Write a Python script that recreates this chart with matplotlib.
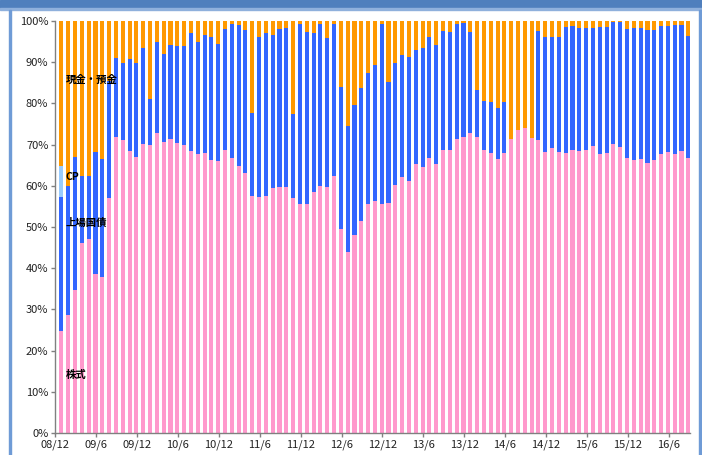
import numpy as np
import matplotlib
matplotlib.use("Agg")
import matplotlib.pyplot as plt
from matplotlib.patches import Rectangle

plt.rcParams['font.family'] = ['Noto Sans CJK JP', 'DejaVu Sans']

# monthly composition (%), 08/12 .. 16/8
stocks = [24.8, 28.6, 34.7, 46.2, 47.1, 38.7, 37.9, 57.1, 71.9, 71.1,
          68.4, 67.1, 70.1, 70.0, 72.7, 70.7, 71.4, 70.4, 69.9, 68.4,
          67.8, 68.0, 66.3, 66.1, 68.7, 66.8, 64.8, 63.0, 57.6, 57.3,
          57.6, 59.4, 59.8, 59.8, 57.1, 55.7, 55.5, 58.4, 60.0, 59.8,
          62.4, 49.4, 44.0, 48.1, 51.5, 55.5, 56.4, 55.7, 55.8, 60.2,
          62.2, 61.2, 65.4, 64.5, 66.8, 65.4, 68.8, 68.8, 71.4, 71.9,
          72.9, 71.8, 68.8, 68.0, 66.5, 68.0, 71.4, 73.5, 74.0, 71.5,
          71.0, 68.3, 69.2, 68.3, 68.0, 68.7, 68.4, 68.8, 69.7, 67.8,
          68.0, 70.2, 69.4, 66.7, 66.3, 66.5, 65.5, 66.2, 67.7, 68.1,
          67.8, 68.4, 66.8]

bonds = [32.6, 31.4, 32.4, 16.2, 15.3, 29.6, 28.6, 28.4, 19.2, 18.6,
         22.4, 22.6, 23.4, 11.1, 22.3, 21.2, 22.8, 23.5, 24.0, 28.8,
         27.1, 28.6, 29.7, 28.4, 29.4, 32.4, 34.2, 34.9, 20.0, 38.8,
         39.6, 37.2, 38.3, 38.4, 20.3, 43.5, 41.9, 38.7, 39.3, 36.0,
         36.9, 34.7, 30.4, 31.4, 32.2, 32.0, 32.9, 43.5, 29.5, 29.7,
         29.5, 30.1, 27.6, 28.9, 29.4, 28.9, 28.8, 28.6, 27.8, 27.7,
         24.5, 11.5, 11.9, 12.4, 12.5, 12.3, 0.0, 0.0, 0.0, 0.0,
         26.6, 27.9, 26.8, 27.8, 30.6, 30.1, 30.0, 29.6, 28.5, 30.8,
         30.6, 29.5, 30.3, 31.4, 31.9, 31.9, 32.4, 31.7, 31.2, 30.8,
         31.3, 30.7, 29.6]

cp = [7.4] + [0.0] * 92

cash = [35.2, 40.0, 32.9, 37.6, 37.6, 31.7, 33.5, 14.5, 8.9, 10.3,
        9.2, 10.3, 6.5, 18.9, 5.0, 8.1, 5.8, 6.1, 6.1, 2.8,
        5.1, 3.4, 4.0, 5.5, 1.9, 0.8, 1.0, 2.1, 22.4, 3.9,
        2.8, 3.4, 1.9, 1.8, 22.6, 0.8, 2.6, 2.9, 0.7, 4.2,
        0.7, 15.9, 25.6, 20.5, 16.3, 12.5, 10.7, 0.8, 14.7, 10.1,
        8.3, 8.7, 7.0, 6.6, 3.8, 5.7, 2.4, 2.6, 0.8, 0.4,
        2.6, 16.7, 19.3, 19.6, 21.0, 19.7, 28.6, 26.5, 26.0, 28.5,
        2.4, 3.8, 4.0, 3.9, 1.4, 1.2, 1.6, 1.6, 1.8, 1.4,
        1.4, 0.3, 0.3, 1.9, 1.8, 1.6, 2.1, 2.1, 1.1, 1.1,
        0.9, 0.9, 3.6]

tick_labels = ['08/12', '09/6', '09/12', '10/6', '10/12', '11/6', '11/12',
               '12/6', '12/12', '13/6', '13/12', '14/6', '14/12', '15/6',
               '15/12', '16/6']

fig = plt.figure(figsize=(7.02, 4.55), dpi=100)
ax = fig.add_axes([0.0788, 0.0484, 0.9037, 0.9054])

x = np.arange(len(stocks)) + 0.9
w = 0.6
s = np.array(stocks)
b = np.array(bonds)
c = np.array(cp)
k = np.array(cash)

ax.bar(x, s, w, color='#FF99CC', edgecolor='none')
ax.bar(x, b, w, bottom=s, color='#3366FF', edgecolor='none')
ax.bar(x, c, w, bottom=s + b, color='#99CCFF', edgecolor='none')
ax.bar(x, k, w, bottom=s + b + c, color='#FF9900', edgecolor='none')

ax.set_xlim(0, 93.1)
ax.set_ylim(0, 100)
ax.set_yticks(np.arange(0, 101, 10))
ax.set_yticklabels([f'{v}%' for v in range(0, 101, 10)])
ax.set_xticks(np.arange(len(tick_labels)) * 6)
ax.set_xticklabels(tick_labels)
ax.tick_params(axis='both', labelsize=8, colors='#808080', labelcolor='#222222',
               length=3, width=1, direction='out')
ax.tick_params(axis='y', pad=2)
ax.tick_params(axis='x', pad=2)
for side in ['top', 'right']:
    ax.spines[side].set_visible(False)
for side in ['left', 'bottom']:
    ax.spines[side].set_color('#808080')
    ax.spines[side].set_linewidth(1)

# series labels
lab = dict(fontsize=7.5, fontweight='bold', color='black', va='center', ha='left')
ax.text(1.55, 85.8, '現金・預金', **lab)
ax.text(1.55, 62.2, 'CP', **lab)
ax.text(1.55, 51.0, '上場国債', **lab)
ax.text(1.55, 14.1, '株式', **lab)

# window frame
fig.patches.append(Rectangle((0, 447 / 455), 1, 8 / 455, transform=fig.transFigure,
                             color='#4F7FBD', zorder=0))
fig.patches.append(Rectangle((0, 445 / 455), 1, 2 / 455, transform=fig.transFigure,
                             color='#8FB0DC', zorder=0))
fig.patches.append(Rectangle((9 / 702, 0), 2 / 702, 445 / 455, transform=fig.transFigure,
                             color='#6F9BD6', zorder=0))
fig.patches.append(Rectangle((699 / 702, 0), 3 / 702, 445 / 455, transform=fig.transFigure,
                             color='#6F9BD6', zorder=0))

fig.savefig('out.png', dpi=100)
